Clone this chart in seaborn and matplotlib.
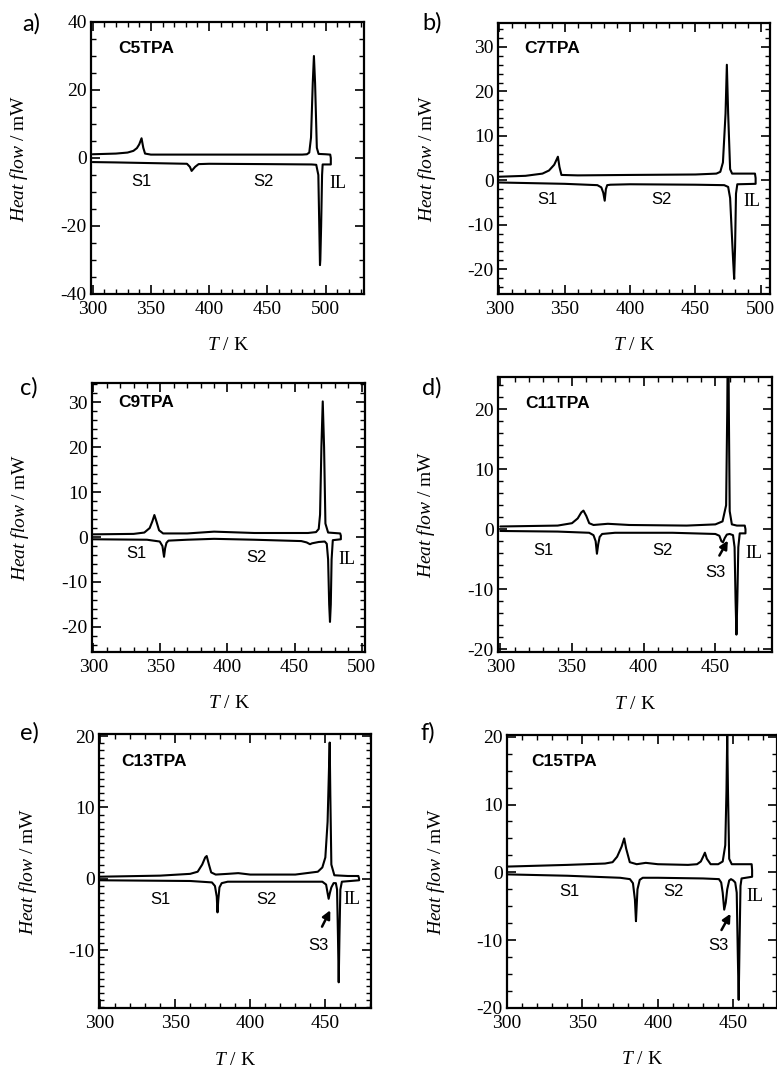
import numpy as np
import pandas as pd
import matplotlib
matplotlib.use("Agg")
import matplotlib.pyplot as plt
from matplotlib.ticker import MultipleLocator
import seaborn as sns

# ---------------- data (DSC loops: heating branch out, cooling branch back) ----------------
c5_T = [300, 320, 330, 335, 338, 340, 342, 343.5, 345, 350, 400, 450, 480, 484, 486, 487.5, 489, 490, 491, 492.5, 494, 500, 504, 504.5,
        504.5, 497.5, 497, 496.2, 495.5, 495.2, 494.6, 493.8, 492, 488, 450, 400, 391, 388, 385, 383.5, 381, 350, 320, 300]
c5_H = [1.1, 1.3, 1.6, 2.1, 2.9, 4.0, 5.8, 3.0, 1.3, 1.0, 1.0, 1.0, 1.0, 1.1, 1.6, 6, 22, 30, 22, 3, 1.2, 1.1, 1.0, 0.0,
        -1.9, -1.9, -5, -20, -30, -31.5, -20, -5, -2.0, -1.9, -1.8, -1.7, -1.8, -2.6, -3.8, -2.6, -1.7, -1.5, -1.3, -1.2]

c7_T = [300, 320, 333, 338, 342, 344.8, 346, 347.5, 360, 400, 450, 466, 469, 471, 473, 474, 475, 476.5, 478, 485, 495.5, 496,
        496, 482, 481, 480.3, 479.6, 478.8, 477.8, 476.5, 475, 472, 450, 400, 385, 382.5, 381.5, 380.6, 379.5, 378, 375, 350, 300]
c7_H = [0.8, 1.0, 1.5, 2.2, 3.5, 5.3, 3.0, 1.2, 1.1, 1.2, 1.3, 1.5, 1.9, 4, 15, 26, 15, 2.5, 1.5, 1.5, 1.5, 0.5,
        -0.8, -0.9, -3, -15, -22.2, -18, -12, -4, -1.5, -1.1, -1.0, -0.9, -1.0, -1.1, -2.0, -4.6, -2.8, -1.6, -1.1, -0.8, -0.5]

c9_T = [300, 330, 338, 342, 344, 345.5, 347, 349, 352, 370, 390, 420, 460, 466, 468, 469, 470, 471, 472, 473, 475, 484, 484.5,
        484.5, 478.5, 477.6, 477, 476.4, 475.8, 475, 474, 472.5, 468, 463, 461.5, 459, 455, 420, 390, 370, 356, 354.5, 353.5,
        352.7, 351.5, 349.5, 340, 300]
c9_H = [0.6, 0.7, 1.0, 2.0, 3.5, 4.9, 3.5, 1.5, 0.8, 0.8, 1.2, 0.9, 0.9, 1.1, 1.8, 5, 20, 30.2, 20, 3, 1.0, 0.8, 0.3,
        -0.5, -0.7, -5, -15, -18.9, -15, -5, -1.5, -1.0, -1.1, -1.4, -1.6, -1.2, -0.9, -0.6, -0.4, -0.6, -0.8, -1.3, -2.5,
        -4.4, -2.0, -1.0, -0.6, -0.5]

c11_T = [300, 340, 350, 354, 356.5, 358, 360, 362, 365, 375, 390, 430, 450, 455, 457.5, 458.3, 458.9, 459.4, 460, 461.5, 465, 470.5, 471,
         471, 467, 466, 465.3, 464.7, 464.1, 463.4, 462.3, 460, 458, 456.5, 455.3, 454.2, 452.8, 450, 420, 380, 371, 369.3, 368.3,
         367.4, 366.5, 365, 362, 340, 300]
c11_H = [0.45, 0.6, 1.0, 1.8, 2.8, 3.1, 2.2, 1.0, 0.7, 0.9, 0.7, 0.6, 0.8, 1.3, 4, 20, 40, 20, 3, 0.8, 0.6, 0.6, 0.0,
         -0.7, -0.7, -3, -12, -17.6, -12, -3, -1.0, -0.8, -0.9, -1.5, -2.2, -2.0, -1.1, -0.8, -0.6, -0.6, -0.8, -1.3, -2.5,
         -4.1, -2.0, -1.0, -0.6, -0.4, -0.3]

c13_T = [300, 340, 360, 365, 368, 370, 371, 372.5, 374, 377, 385, 392, 400, 430, 445, 448, 450, 451.5, 452.5, 452.9, 453.3, 454,
         456, 465, 472, 472.5,
         472.5, 461, 460, 459.4, 458.9, 458.4, 457.8, 457, 455.5, 454, 453, 452.2, 451.5, 450.5, 448, 420, 385, 381, 379.5,
         378.7, 378.2, 377.7, 376.5, 374.5, 360, 300]
c13_H = [0.3, 0.45, 0.7, 1.0, 2.0, 3.0, 3.2, 2.0, 0.9, 0.6, 0.7, 0.8, 0.6, 0.6, 1.0, 1.6, 3, 8, 16, 19.1, 12, 2,
         0.5, 0.4, 0.4, 0.0,
         -0.2, -0.4, -1.5, -8, -14.5, -8, -1.5, -0.6, -0.6, -1.2, -2.0, -2.8, -2.0, -0.8, -0.4, -0.4, -0.4, -0.6, -1.2,
         -3, -4.7, -2.5, -1.0, -0.5, -0.3, -0.2]

c15_T = [300, 340, 365, 370, 373, 376, 377.7, 379, 381.4, 386, 392, 400, 420, 426, 428.5, 430, 431.2, 432.5, 435, 440, 443,
         444.7, 445.5, 446, 446.5, 447.3, 449, 455, 462.2, 462.5,
         462.5, 455.5, 454.8, 454.2, 453.6, 453.0, 452.3, 451.3, 450, 448.5, 447.3, 446, 445, 444, 443, 442, 440.5, 430,
         400, 390, 388, 386.5, 385.5, 384.8, 383.5, 381.5, 375, 340, 300]
c15_H = [0.85, 1.1, 1.3, 1.5, 2.3, 3.8, 5.0, 3.5, 1.5, 1.2, 1.4, 1.2, 1.1, 1.2, 1.6, 2.3, 2.9, 2.0, 1.2, 1.2, 1.6,
         4, 12, 20.3, 12, 2, 1.2, 1.2, 1.2, 0.3,
         -0.65, -0.9, -2, -10, -18.8, -12, -3, -1.5, -1.2, -1.0, -1.2, -2.5, -4.5, -5.5, -3, -1.5, -1.0, -0.9,
         -0.8, -0.8, -1.1, -2.5, -7.2, -4, -1.6, -1.0, -0.8, -0.5, -0.3]

panel_tags = ["a)", "b)", "c)", "d)", "e)", "f)"]
sample_names = ["C5TPA", "C7TPA", "C9TPA", "C11TPA", "C13TPA", "C15TPA"]
x_ticks = [[300, 350, 400, 450, 500], [300, 350, 400, 450, 500], [300, 350, 400, 450, 500],
           [300, 350, 400, 450], [300, 350, 400, 450], [300, 350, 400, 450]]
y_ticks = [[-40, -20, 0, 20, 40], [-20, -10, 0, 10, 20, 30], [-20, -10, 0, 10, 20, 30],
           [-20, -10, 0, 10, 20], [-10, 0, 10, 20], [-20, -10, 0, 10, 20]]
phase_labels = ["S1", "S2", "IL"]
s3_label = "S3"

# ---------------- styling / layout ----------------
sns.set_theme(style="ticks")
plt.rcParams.update({
    "font.family": ["Liberation Serif", "DejaVu Serif"],
    "mathtext.fontset": "custom",
    "mathtext.rm": "Liberation Serif",
    "mathtext.it": "Liberation Serif:italic",
    "axes.unicode_minus": False,
    "axes.linewidth": 1.5,
    "axes.edgecolor": "black",
    "text.color": "black",
    "axes.labelcolor": "black",
    "xtick.color": "black",
    "ytick.color": "black",
    "xtick.labelcolor": "black",
    "ytick.labelcolor": "black",
})

W, H = 777, 1073
fig = plt.figure(figsize=(W / 100, H / 100), dpi=100)

# axes boxes in pixels: left, top, right, bottom
boxes = [(91, 22, 364, 294), (498, 23, 770, 294), (92, 383, 365, 652),
         (498, 377, 772, 652), (99, 734, 371, 1008), (507, 735, 777, 1008)]
xlims = [(298.6, 533), (299, 507), (299, 502.5), (298.4, 489.5), (299.3, 480.4), (300, 479)]
ylims = [(-40, 40), (-25.6, 35.4), (-25.6, 34.3), (-20.5, 25.4), (-18.1, 20.3), (-20, 20.25)]
xminor = [10, 10, 10, 10, 10, 10]
yminor = [5, 2, 2, 2, 1, 2.5]
tag_pos = [(31, 24), (432, 23), (29, 388), (432, 388), (29, 733), (428, 733)]
title_pos = [(322, 32.3), (319.2, 29.6), (318.6, 29.9), (317.4, 21), (314, 16.4), (316.2, 16.3)]
s_pos = [
    [(342, -7), (446.5, -7), (511, -7.5)],
    [(337, -4.4), (424, -4.4), (493, -4.8)],
    [(332.3, -3.6), (421.7, -4.5), (488.8, -5.1)],
    [(330.2, -3.6), (412.8, -3.6), (476.6, -4.1)],
    [(340, -2.9), (411, -2.9), (467.8, -2.9)],
    [(341.6, -2.85), (410.2, -2.85), (464.4, -3.6)],
]
s3_pos = {3: ((449.8, -7.2), (452.8, -4.4), (458.7, -1.9)),
          4: ((445.6, -9.4), (447.8, -6.7), (453.3, -4.4)),
          5: ((440.0, -10.8), (442.2, -8.5), (448.2, -6.1))}

curves = [(c5_T, c5_H), (c7_T, c7_H), (c9_T, c9_H), (c11_T, c11_H), (c13_T, c13_H), (c15_T, c15_H)]

for i, (T, Hf) in enumerate(curves):
    l, t, r, b = boxes[i]
    ax = fig.add_axes([l / W, 1 - b / H, (r - l) / W, (b - t) / H])
    df = pd.DataFrame({"T": T, "H": Hf})
    sns.lineplot(data=df, x="T", y="H", sort=False, estimator=None, color="black",
                 linewidth=1.5, ax=ax)
    ax.set_xlim(*xlims[i])
    ax.set_ylim(*ylims[i])
    ax.set_xticks(x_ticks[i])
    ax.set_yticks(y_ticks[i])
    ax.xaxis.set_minor_locator(MultipleLocator(xminor[i]))
    ax.yaxis.set_minor_locator(MultipleLocator(yminor[i]))
    ax.tick_params(which="both", direction="in", top=True, right=True, color="black")
    ax.tick_params(which="major", length=6.5, width=1.2, labelsize=14, pad=5)
    ax.tick_params(axis="y", which="major", pad=3)
    ax.tick_params(which="minor", length=3.4, width=1.0)
    for sp in ax.spines.values():
        sp.set_visible(True)
        sp.set_linewidth(1.6)
        sp.set_color("black")

    ax.set_xlabel(r"$\mathit{T}$ / K", fontsize=14)
    ax.set_ylabel(r"$\mathit{Heat\ flow}$ / mW", fontsize=14)
    ax.xaxis.set_label_coords(0.5, -0.19)
    ax.yaxis.set_label_coords(-0.262, 0.5)
    ax.xaxis.label.set_va("center")
    ax.yaxis.label.set_va("center")

    ax.text(*title_pos[i], sample_names[i], family="Liberation Sans", weight="bold",
            fontsize=12.5, ha="left", va="center")
    for j, lab in enumerate(phase_labels):
        x, y = s_pos[i][j]
        if lab == "IL":
            ax.text(x, y, lab, family="Liberation Serif", fontsize=13, ha="center", va="center")
        else:
            ax.text(x, y, lab, family="Liberation Sans", fontsize=12, ha="center", va="center")
    if i in s3_pos:
        (tx, ty), tail, head = s3_pos[i]
        ax.text(tx, ty, s3_label, family="Liberation Sans", fontsize=12, ha="center", va="center")
        ax.annotate("", xy=head, xytext=tail,
                    arrowprops=dict(arrowstyle="-|>", color="black", lw=1.8, mutation_scale=12,
                                    shrinkA=0, shrinkB=0))

    px, py = tag_pos[i]
    fig.text(px / W, 1 - py / H, panel_tags[i], family=["Lato", "DejaVu Sans"], fontsize=17,
             ha="center", va="center")

fig.savefig("out.png", dpi=100)
